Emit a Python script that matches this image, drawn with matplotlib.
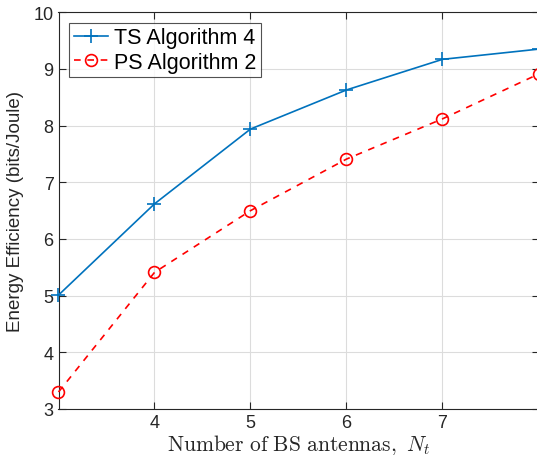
import matplotlib
matplotlib.use("Agg")
import matplotlib.pyplot as plt

antennas = [3, 4, 5, 6, 7, 8]
ts_alg4 = [5.01, 6.62, 7.94, 8.63, 9.17, 9.35]
ps_alg2 = [3.30, 5.41, 6.50, 7.41, 8.12, 8.91]
xticks = [4, 5, 6, 7]
yticks = [3, 4, 5, 6, 7, 8, 9, 10]

plt.rcParams['font.family'] = ['Liberation Sans', 'DejaVu Sans']
plt.rcParams['mathtext.fontset'] = 'cm'

fig = plt.figure(figsize=(5.37, 4.56), dpi=100)
ax = fig.add_axes([58.5/537, 1-410/456, 480/537, (410-13.3)/456])

ax.plot(antennas, ts_alg4, color='#0072BD', lw=1.2, marker='+', ms=10, mew=1.2,
        label='TS Algorithm 4', clip_on=False, zorder=3)
ax.plot(antennas, ps_alg2, color='red', lw=1.2, ls=(0, (4, 4)), marker='o', ms=8.5,
        mfc='none', mew=1.2, label='PS Algorithm 2', clip_on=False, zorder=3)

ax.set_xlim(3, 8)
ax.set_ylim(3, 10)
ax.set_xticks(xticks)
ax.set_yticks(yticks)
ax.grid(True, color='#dcdcdc', lw=0.8)
ax.set_axisbelow(True)
for s in ax.spines.values():
    s.set_color('#262626')
    s.set_linewidth(0.8)
ax.tick_params(direction='in', length=5, width=0.8, colors='#262626',
               labelsize=13, top=True, right=True, labelcolor='#262626')

ax.set_ylabel('Energy Efficiency (bits/Joule)', fontsize=13.5, color='#262626', labelpad=7)
ax.set_xlabel(r'$\mathrm{Number\ of\ BS\ antennas,}\ N_t$', fontsize=15.5, color='#262626', labelpad=1)

leg = ax.legend(loc='upper left', fontsize=15.5, frameon=True, fancybox=False,
                edgecolor='#262626', handlelength=1.6, handletextpad=0.3,
                borderpad=0.2, labelspacing=0.15, borderaxespad=0.5)
leg.get_frame().set_linewidth(0.8)

fig.savefig('out.png', dpi=100)
